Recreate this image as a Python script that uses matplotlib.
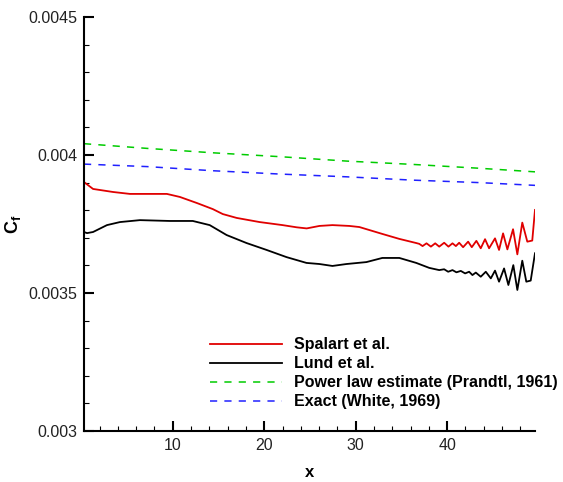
import matplotlib
matplotlib.use("Agg")
import matplotlib.pyplot as plt
from matplotlib.ticker import MultipleLocator

plt.rcParams['font.family'] = ['Liberation Sans', 'DejaVu Sans']
plt.rcParams['mathtext.fontset'] = 'custom'
plt.rcParams['mathtext.rm'] = 'Liberation Sans'
plt.rcParams['mathtext.bf'] = 'Liberation Sans:bold'
plt.rcParams['mathtext.it'] = 'Liberation Sans:italic'

# Skin-friction coefficient along the plate
spalart_x = [0.3, 1.29, 3.47, 5.32, 9.36, 10.78, 12.64, 14.38, 15.47, 16.99, 19.5,
             22.0, 23.55, 24.64, 26.04, 27.46, 29.3, 30.4, 32.91, 34.77, 36.62, 36.95,
             37.31, 37.74, 38.22, 38.69, 39.13, 39.67, 40.14, 40.58, 40.95, 41.31,
             41.74, 42.29, 42.69, 43.19, 43.67, 44.14, 44.58, 45.23, 45.67, 46.11,
             46.58, 47.2, 47.67, 48.21, 48.76, 49.3, 49.6]
spalart_cf = [0.003902, 0.003877, 0.003866, 0.003859, 0.003859, 0.003848, 0.003826,
              0.003804, 0.003786, 0.003772, 0.003757, 0.003746, 0.003738, 0.003734,
              0.003743, 0.003746, 0.003743, 0.003739, 0.003714, 0.003696, 0.003681,
              0.003678, 0.003670, 0.003680, 0.003668, 0.003680, 0.003668, 0.003682,
              0.003668, 0.003680, 0.003670, 0.003682, 0.003666, 0.003686, 0.003666,
              0.003689, 0.003662, 0.003695, 0.003662, 0.003698, 0.003656, 0.003716,
              0.003658, 0.003731, 0.003640, 0.003755, 0.003686, 0.003690, 0.003801]

lund_x = [0.3, 0.63, 1.29, 2.81, 4.23, 6.41, 9.68, 12.19, 14.04, 15.89, 18.07, 20.26,
          22.44, 24.62, 26.04, 27.46, 28.99, 31.17, 32.91, 34.77, 36.62, 38.04,
          39.13, 39.67, 40.11, 40.58, 41.01, 41.49, 41.96, 42.40, 42.76, 43.13,
          43.67, 44.22, 44.77, 45.23, 45.67, 46.22, 46.69, 47.23, 47.67, 48.21,
          48.65, 49.13, 49.6]
lund_cf = [0.003721, 0.003717, 0.003721, 0.003746, 0.003757, 0.003764, 0.003761,
           0.003761, 0.003746, 0.003710, 0.003681, 0.003656, 0.003630, 0.003609,
           0.003605, 0.003598, 0.003605, 0.003612, 0.003627, 0.003627, 0.003609,
           0.003591, 0.003583, 0.003586, 0.003577, 0.003583, 0.003575, 0.003580,
           0.003571, 0.003577, 0.003565, 0.003574, 0.003559, 0.003577, 0.003553,
           0.003581, 0.003541, 0.003589, 0.003529, 0.003601, 0.003511, 0.003617,
           0.003541, 0.003545, 0.003644]

prandtl_x = [0.3, 7.18, 14.37, 21.68, 28.99, 36.18, 43.49, 49.6]
prandtl_cf = [0.004041, 0.004024, 0.004008, 0.003994, 0.003978, 0.003966, 0.003952, 0.003939]

white_x = [0.3, 7.18, 14.37, 21.68, 28.99, 36.18, 43.49, 49.6]
white_cf = [0.003967, 0.003958, 0.003943, 0.003931, 0.003921, 0.003909, 0.003900, 0.003890]

labels = ["Spalart et al.", "Lund et al.",
          "Power law estimate (Prandtl, 1961)", "Exact (White, 1969)"]

fig = plt.figure(figsize=(5.63, 4.82), dpi=100)
ax = fig.add_axes([84 / 563, 1 - 431 / 482, 451 / 563, 414 / 482])

ax.plot(spalart_x, spalart_cf, color='#e00000', lw=1.3, label=labels[0])
ax.plot(lund_x, lund_cf, color='black', lw=1.3, label=labels[1])
ax.plot(prandtl_x, prandtl_cf, color='#00cc00', lw=1.1, dashes=(4.7, 4.7), label=labels[2])
ax.plot(white_x, white_cf, color='#2020ff', lw=1.1, dashes=(4.7, 4.7), label=labels[3])

ax.set_xlim(0.3, 49.6)
ax.set_ylim(0.003, 0.0045)
ax.xaxis.set_major_locator(MultipleLocator(10))
ax.xaxis.set_minor_locator(MultipleLocator(2))
ax.yaxis.set_major_locator(MultipleLocator(0.0005))
ax.yaxis.set_minor_locator(MultipleLocator(0.0001))
ax.set_yticks([0.003, 0.0035, 0.004, 0.0045])
ax.set_yticklabels(["0.003", "0.0035", "0.004", "0.0045"])
ax.set_xticks([10, 20, 30, 40])
ax.set_xticklabels(["10", "20", "30", "40"])

for side in ('top', 'right'):
    ax.spines[side].set_visible(False)
for side in ('left', 'bottom'):
    ax.spines[side].set_linewidth(1.5)

ax.tick_params(which='major', direction='in', length=7, width=1.5,
               labelsize=11.5, pad=5, top=False, right=False, labelcolor='#222222')
ax.tick_params(which='minor', direction='in', length=3.6, width=0.8,
               top=False, right=False)

ax.set_xlabel('x', fontsize=12, fontweight='bold')
ax.xaxis.set_label_coords(0.5, -0.083)
ax.set_ylabel(r'$\mathbf{C_f}$', fontsize=13)
ax.yaxis.set_label_coords(-0.135, 0.5)

leg = ax.legend(loc='upper left', bbox_to_anchor=(0.279, 0.2267), frameon=False,
                borderpad=0, borderaxespad=0, handlelength=4.5, handletextpad=0.8,
                labelspacing=0.25, prop={'weight': 'bold', 'size': 11.5})

fig.savefig('out.png', dpi=100)
